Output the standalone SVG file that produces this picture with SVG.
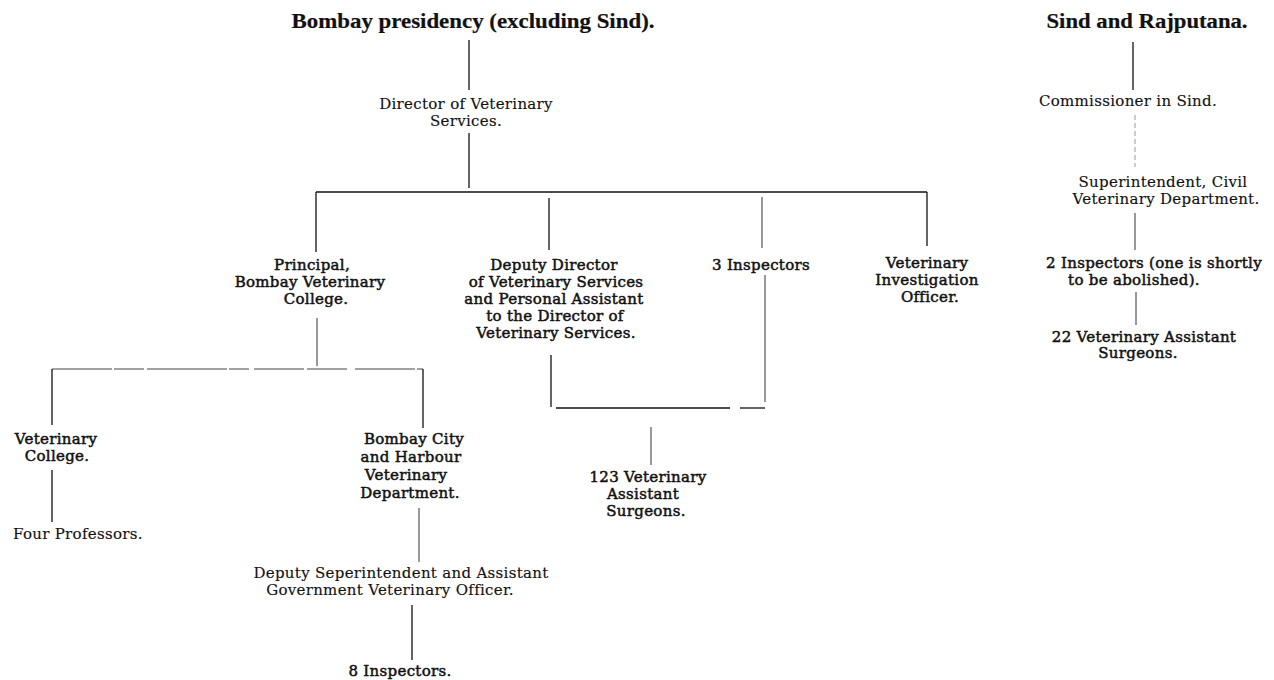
<svg xmlns="http://www.w3.org/2000/svg" width="1274" height="680" viewBox="0 0 1274 680">
<style>
  text { font-family: "DejaVu Serif", "Liberation Serif", serif; font-size: 15px; fill: #111; text-anchor: middle; letter-spacing: 0.3px; stroke: #111; stroke-width: 0.15px; }
  .title { font-family: "Liberation Serif", "DejaVu Serif", serif; font-size: 21px; font-weight: bold; letter-spacing: 0; stroke-width: 0.2px; }
  .b text { stroke-width: 0.5px; }
  .l { stroke: #111; stroke-width: 1.3; fill: none; }
  .thin { stroke: #333; stroke-width: 1; fill: none; }
  .faint { stroke: #999; stroke-width: 1; fill: none; stroke-dasharray: 5 3; }
  .dot { stroke: #444; stroke-width: 1; fill: none; stroke-dasharray: 60 2 30 3 80 2 20 5 50 3 40 8; }
</style>
<rect width="1274" height="680" fill="#fff"/>

<g id="connectors">
  <line class="l" x1="469" y1="40" x2="469" y2="90"/>
  <line class="l" x1="469" y1="133" x2="469" y2="188"/>
  <line class="l" x1="316" y1="192" x2="927" y2="192"/>
  <line class="l" x1="316" y1="192" x2="316" y2="252"/>
  <line class="l" x1="549" y1="198" x2="549" y2="250"/>
  <line class="thin" x1="762" y1="197" x2="762" y2="248"/>
  <line class="l" x1="927" y1="192" x2="927" y2="246"/>
  <line class="thin" x1="317" y1="318" x2="317" y2="366"/>
  <line class="dot" x1="52" y1="369" x2="423" y2="369"/>
  <line class="l" x1="52" y1="369" x2="52" y2="425"/>
  <line class="l" x1="423" y1="369" x2="423" y2="428"/>
  <line class="l" x1="52" y1="470" x2="52" y2="522"/>
  <line class="thin" x1="419" y1="508" x2="419" y2="562"/>
  <line class="l" x1="412" y1="605" x2="412" y2="660"/>
  <line class="l" x1="551" y1="355" x2="551" y2="407"/>
  <line class="thin" x1="765" y1="275" x2="765" y2="402"/>
  <line class="l" x1="556" y1="408" x2="730" y2="408"/>
  <line class="l" x1="740" y1="408" x2="765" y2="408"/>
  <line class="thin" x1="651" y1="427" x2="651" y2="465"/>
  <line class="l" x1="1133" y1="42" x2="1133" y2="90" stroke-width="1.6"/>
  <line class="faint" x1="1135" y1="115" x2="1135" y2="167"/>
  <line class="thin" x1="1135" y1="213" x2="1135" y2="250"/>
  <line class="thin" x1="1136" y1="292" x2="1136" y2="325"/>
</g>

<g id="title-bombay"><text class="title" x="473" y="28" textLength="363" lengthAdjust="spacingAndGlyphs">Bombay presidency (excluding Sind).</text></g>
<g id="director"><text x="466" y="109">Director of Veterinary</text><text x="466" y="126">Services.</text></g>
<g id="principal" class="b"><text x="312" y="270">Principal,</text><text x="310" y="287">Bombay Veterinary</text><text x="316" y="304">College.</text></g>
<g id="deputy-director" class="b"><text x="554" y="270">Deputy Director</text><text x="556" y="287">of Veterinary Services</text><text x="554" y="304">and Personal Assistant</text><text x="555" y="321">to the Director of</text><text x="556" y="338">Veterinary Services.</text></g>
<g id="three-inspectors" class="b"><text x="761" y="270">3 Inspectors</text></g>
<g id="vet-investigation" class="b"><text x="927" y="268">Veterinary</text><text x="927" y="285">Investigation</text><text x="930" y="302">Officer.</text></g>
<g id="vet-college" class="b"><text x="56" y="444">Veterinary</text><text x="57" y="461">College.</text></g>
<g id="four-professors"><text x="13" y="539" style="text-anchor:start">Four Professors.</text></g>
<g id="bombay-city" class="b"><text x="414" y="444">Bombay City</text><text x="411" y="462">and Harbour</text><text x="406" y="480">Veterinary</text><text x="410" y="498">Department.</text></g>
<g id="deputy-superintendent"><text x="401" y="578">Deputy Seperintendent and Assistant</text><text x="390" y="595">Government Veterinary Officer.</text></g>
<g id="eight-inspectors" class="b"><text x="400" y="676">8 Inspectors.</text></g>
<g id="vas-123" class="b"><text x="648" y="482">123 Veterinary</text><text x="643" y="499">Assistant</text><text x="646" y="516">Surgeons.</text></g>

<g id="title-sind"><text class="title" x="1147" y="28" textLength="201" lengthAdjust="spacingAndGlyphs">Sind and Rajputana.</text></g>
<g id="commissioner"><text x="1128" y="106">Commissioner in Sind.</text></g>
<g id="superintendent"><text x="1163" y="187">Superintendent, Civil</text><text x="1166" y="204">Veterinary Department.</text></g>
<g id="two-inspectors" class="b"><text x="1154" y="268">2 Inspectors (one is shortly</text><text x="1134" y="285">to be abolished).</text></g>
<g id="vas-22" class="b"><text x="1144" y="342">22 Veterinary Assistant</text><text x="1138" y="358">Surgeons.</text></g>
</svg>
